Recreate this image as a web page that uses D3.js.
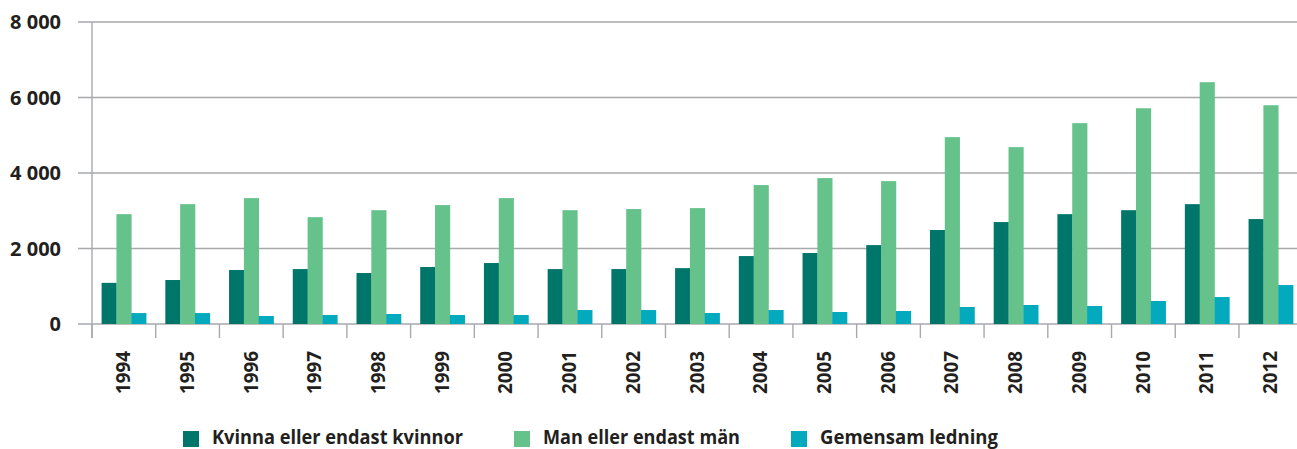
<!DOCTYPE html>
<html>
<head>
<meta charset="utf-8">
<script src="https://cdn.jsdelivr.net/npm/d3@7"></script>
<style>
  html, body { margin: 0; padding: 0; background: #fff; }
  svg { display: block; font-family: "Open Sans", sans-serif; }
  .lbl { fill: #231f20; font-weight: 700; }
</style>
</head>
<body>
<svg id="chart" width="1297" height="449"></svg>
<script>
const years = ['1994', '1995', '1996', '1997', '1998', '1999', '2000', '2001', '2002', '2003',
  '2004', '2005', '2006', '2007', '2008', '2009', '2010', '2011', '2012'];
const seriesNames = ['Kvinna eller endast kvinnor', 'Man eller endast män', 'Gemensam ledning'];
const seriesColors = ['#00756a', '#64c28a', '#03a9bd'];
const women = [1090, 1165, 1430, 1455, 1350, 1510, 1615, 1455, 1455, 1480, 1800, 1880, 2090, 2490, 2700, 2910, 3015, 3175, 2780];
const men = [2910, 3175, 3335, 2830, 3015, 3150, 3335, 3015, 3045, 3070, 3680, 3865, 3785, 4950, 4685, 5320, 5715, 6405, 5795];
const joint = [290, 290, 212, 238, 265, 238, 238, 370, 370, 291, 370, 318, 344, 450, 503, 476, 609, 714, 1032];
const yTicks = [0, 2000, 4000, 6000, 8000];

const series = [women, men, joint];
const svg = d3.select('#chart');

const x = d3.scaleBand().domain(years).range([92, 92 + 19 * 63.72]).padding(0);
const x1 = d3.scaleBand().domain(d3.range(3)).range([0, x.bandwidth()]).paddingInner(0).paddingOuter(0.648);
const y = d3.scaleLinear().domain([0, 8000]).range([324, 22]);

// gridlines
svg.append('g')
  .selectAll('line')
  .data(yTicks)
  .join('line')
  .attr('x1', 78)
  .attr('x2', 1297)
  .attr('y1', (d) => y(d))
  .attr('y2', (d) => y(d))
  .attr('stroke', '#a7a9ac')
  .attr('stroke-width', 1.4);

// y labels
svg.append('g')
  .selectAll('text')
  .data(yTicks)
  .join('text')
  .attr('class', 'lbl')
  .attr('x', 61)
  .attr('y', (d) => y(d))
  .attr('dy', '0.36em')
  .attr('text-anchor', 'end')
  .attr('font-size', 20)
  .text((d) => d3.format(',')(d).replace(',', ' '));

// axis line and category ticks
svg.append('line')
  .attr('x1', 92).attr('x2', 92)
  .attr('y1', y(8000)).attr('y2', 338)
  .attr('stroke', '#a7a9ac').attr('stroke-width', 1.4);

svg.append('g')
  .selectAll('line')
  .data(years)
  .join('line')
  .attr('x1', (d) => x(d))
  .attr('x2', (d) => x(d))
  .attr('y1', y(0))
  .attr('y2', 338)
  .attr('stroke', '#a7a9ac')
  .attr('stroke-width', 1.4);

// bars
const groups = svg.append('g')
  .selectAll('g')
  .data(years)
  .join('g')
  .attr('transform', (d) => `translate(${x(d)},0)`);

groups.selectAll('rect')
  .data((d, i) => series.map((s, k) => ({ k, v: s[i] })))
  .join('rect')
  .attr('x', (d) => x1(d.k))
  .attr('width', x1.bandwidth() + 0.3)
  .attr('y', (d) => y(d.v))
  .attr('height', (d) => y(0) - y(d.v))
  .attr('fill', (d) => seriesColors[d.k]);

// year labels
svg.append('g')
  .selectAll('text')
  .data(years)
  .join('text')
  .attr('class', 'lbl')
  .attr('font-size', 20)
  .attr('text-anchor', 'end')
  .attr('dy', '0.36em')
  .attr('transform', (d) => `translate(${x(d) + x.bandwidth() / 2 - 1},351) rotate(-90)`)
  .attr('textLength', 43)
  .attr('lengthAdjust', 'spacingAndGlyphs')
  .text((d) => d);

// legend
const legendX = [183, 514, 791];
const legendW = [251, 197, 178];
const legend = svg.append('g')
  .selectAll('g')
  .data(seriesNames)
  .join('g')
  .attr('transform', (d, i) => `translate(${legendX[i]},0)`);

legend.append('rect')
  .attr('x', 0)
  .attr('y', 431)
  .attr('width', 16)
  .attr('height', 16)
  .attr('fill', (d, i) => seriesColors[i]);

legend.append('text')
  .attr('class', 'lbl')
  .attr('x', 29)
  .attr('y', 444)
  .attr('font-size', 19)
  .attr('textLength', (d, i) => legendW[i])
  .attr('lengthAdjust', 'spacingAndGlyphs')
  .text((d) => d);
</script>
</body>
</html>
